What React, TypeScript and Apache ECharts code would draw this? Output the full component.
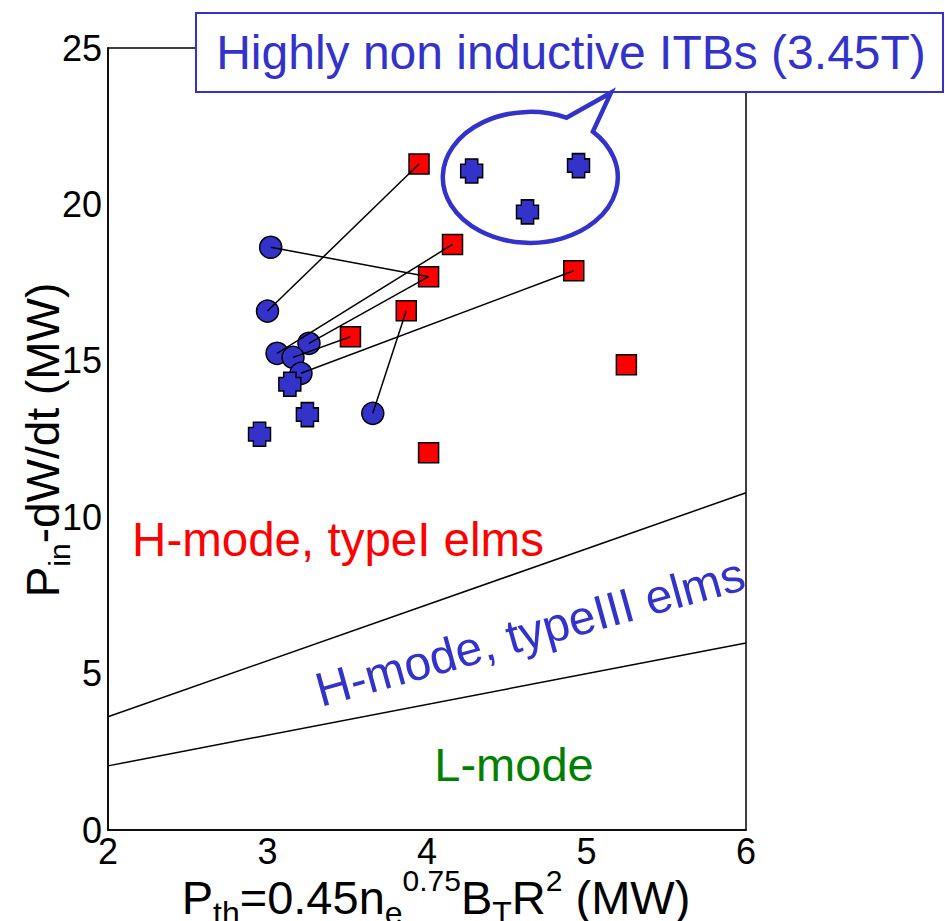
import React, { useEffect, useRef } from "react";
import * as echarts from "echarts";

// ---- data ----
const circlesX = [3.02, 3.0, 3.06, 3.26, 3.16, 3.21, 3.66];
const circlesY = [18.63, 16.59, 15.24, 15.56, 15.11, 14.6, 13.32];

const squaresX = [3.95, 4.16, 4.01, 3.87, 3.52, 4.92, 5.25, 4.01];
const squaresY = [21.29, 18.72, 17.69, 16.6, 15.77, 17.88, 14.87, 12.06];

const crossesX = [3.14, 3.25, 2.95, 4.28, 4.63, 4.95];
const crossesY = [14.25, 13.28, 12.65, 21.07, 19.76, 21.24];

// circle index -> square index
const linkCircle = [0, 1, 2, 3, 4, 5, 6];
const linkSquare = [2, 0, 1, 2, 4, 5, 3];

const boundaryX = [2, 6];
const upperBoundaryY = [3.62, 10.78];
const lowerBoundaryY = [2.05, 5.98];

const xTicks = [2, 3, 4, 5, 6];
const yTicks = [0, 5, 10, 15, 20, 25];

const FONT = "'Liberation Sans', Arial, Helvetica, sans-serif";
const BLUE = "#3333CC";

const crossPath =
  "path://M22,0L78,0L78,22L100,22L100,78L78,78L78,100L22,100L22,78L0,78L0,22L22,22Z";

echarts.graphic.registerShape(
  "bubble",
  echarts.graphic.extendPath(
    "M 62.4 -45.9 A 87.5 65.5 0 1 1 35.9 -59.8 L 80.5 -84.8 Z",
    {}
  )
);

export default function App() {
  const ref = useRef<HTMLDivElement>(null);

  useEffect(() => {
    if (!ref.current) return;
    const chart = echarts.init(ref.current, undefined, { renderer: "svg" });

    const zip = (xs: number[], ys: number[]) => xs.map((x, i) => [x, ys[i]]);

    const linkData = linkCircle.map((c, i) => ({
      coords: [
        [circlesX[c], circlesY[c]],
        [squaresX[linkSquare[i]], squaresY[linkSquare[i]]],
      ],
    }));

    const richMain = { fontSize: 47, fontFamily: FONT, fill: "#000", lineHeight: 63, verticalAlign: "middle" };
    const richSub = { fontSize: 32, fontFamily: FONT, fill: "#000", lineHeight: 32, verticalAlign: "bottom" };
    const richSup = { fontSize: 30, fontFamily: FONT, fill: "#000", lineHeight: 30, verticalAlign: "top" };

    chart.setOption({
      animation: false,
      backgroundColor: "#fff",
      grid: {
        left: 108,
        right: 199,
        top: 48,
        bottom: 91,
        show: true,
        borderColor: "#000",
        borderWidth: 1.5,
        backgroundColor: "transparent",
      },
      xAxis: {
        type: "value",
        min: xTicks[0],
        max: xTicks[xTicks.length - 1],
        interval: 1,
        axisLine: { show: true, lineStyle: { color: "#000", width: 1.5 } },
        axisTick: { show: false },
        splitLine: { show: false },
        axisLabel: { fontSize: 36, color: "#000", fontFamily: FONT, margin: 3 },
      },
      yAxis: {
        type: "value",
        min: yTicks[0],
        max: yTicks[yTicks.length - 1],
        interval: 5,
        axisLine: { show: true, lineStyle: { color: "#000", width: 1.5 } },
        axisTick: { show: false },
        splitLine: { show: false },
        axisLabel: { fontSize: 36, color: "#000", fontFamily: FONT, margin: 6 },
      },
      series: [
        {
          type: "line",
          data: zip(boundaryX, upperBoundaryY),
          showSymbol: false,
          lineStyle: { color: "#000", width: 1.5 },
          z: 1,
        },
        {
          type: "line",
          data: zip(boundaryX, lowerBoundaryY),
          showSymbol: false,
          lineStyle: { color: "#000", width: 1.5 },
          z: 1,
        },
        {
          type: "scatter",
          data: zip(circlesX, circlesY),
          symbol: "circle",
          symbolSize: 22,
          itemStyle: { color: BLUE, borderColor: "#000", borderWidth: 1.5, opacity: 1 },
          z: 2,
        },
        {
          type: "scatter",
          data: zip(squaresX, squaresY),
          symbol: "rect",
          symbolSize: 20,
          itemStyle: { color: "#FF0000", borderColor: "#000", borderWidth: 1.5, opacity: 1 },
          z: 2,
        },
        {
          type: "scatter",
          data: zip(crossesX, crossesY),
          symbol: crossPath,
          symbolSize: [22, 24],
          itemStyle: { color: BLUE, borderColor: "#000", borderWidth: 1.5, opacity: 1 },
          z: 3,
        },
        {
          type: "lines",
          coordinateSystem: "cartesian2d",
          data: linkData,
          lineStyle: { color: "#000", width: 1.5, opacity: 1 },
          z: 4,
        },
      ],
      graphic: [
        {
          type: "group",
          z: 100,
          children: [
            {
              type: "rect",
              shape: { x: 196, y: 13, width: 747, height: 79 },
              style: { fill: "#fff", stroke: BLUE, lineWidth: 2 },
            },
            {
              type: "text",
              x: 571,
              y: 52,
              style: {
                text: "Highly non inductive ITBs (3.45T)",
                fontSize: 48,
                fontFamily: FONT,
                fill: BLUE,
                align: "center",
                verticalAlign: "middle",
              },
            },
          ],
        },
        {
          type: "bubble",
          x: 530.5,
          y: 177.5,
          z: 100,
          style: { fill: "none", stroke: BLUE, lineWidth: 4.5, lineJoin: "miter" },
        },
        {
          type: "text",
          x: 338,
          y: 539,
          z: 100,
          style: {
            text: "H-mode, typeI elms",
            fontSize: 47.5,
            fontFamily: FONT,
            fill: "#FF0000",
            align: "center",
            verticalAlign: "middle",
          },
        },
        {
          type: "text",
          x: 530,
          y: 632,
          rotation: (15.5 * Math.PI) / 180,
          z: 100,
          style: {
            text: "H-mode, typeIII elms",
            fontSize: 48,
            fontFamily: FONT,
            fill: BLUE,
            align: "center",
            verticalAlign: "middle",
          },
        },
        {
          type: "text",
          x: 514,
          y: 764,
          z: 100,
          style: {
            text: "L-mode",
            fontSize: 47,
            fontFamily: FONT,
            fill: "#008000",
            align: "center",
            verticalAlign: "middle",
          },
        },
        {
          type: "text",
          x: 43,
          y: 440,
          rotation: Math.PI / 2,
          z: 100,
          style: {
            text: "{a|P}{s|in}{a|-dW/dt (MW)}",
            align: "center",
            verticalAlign: "middle",
            rich: { a: { ...richMain, fontSize: 46 }, s: { ...richSub, fontSize: 30, lineHeight: 30 } },
          },
        },
        {
          type: "text",
          x: 436,
          y: 897,
          z: 100,
          style: {
            text: "{a|P}{s|th}{a|=0.45n}{s|e}{p|0.75}{a|B}{s|T}{a|R}{p|2}{a| (MW)}",
            align: "center",
            verticalAlign: "middle",
            rich: { a: richMain, s: richSub, p: richSup },
          },
        },
      ],
    });

    return () => chart.dispose();
  }, []);

  return <div ref={ref} style={{ width: 945, height: 921, position: "absolute", left: 0, top: 0 }} />;
}
